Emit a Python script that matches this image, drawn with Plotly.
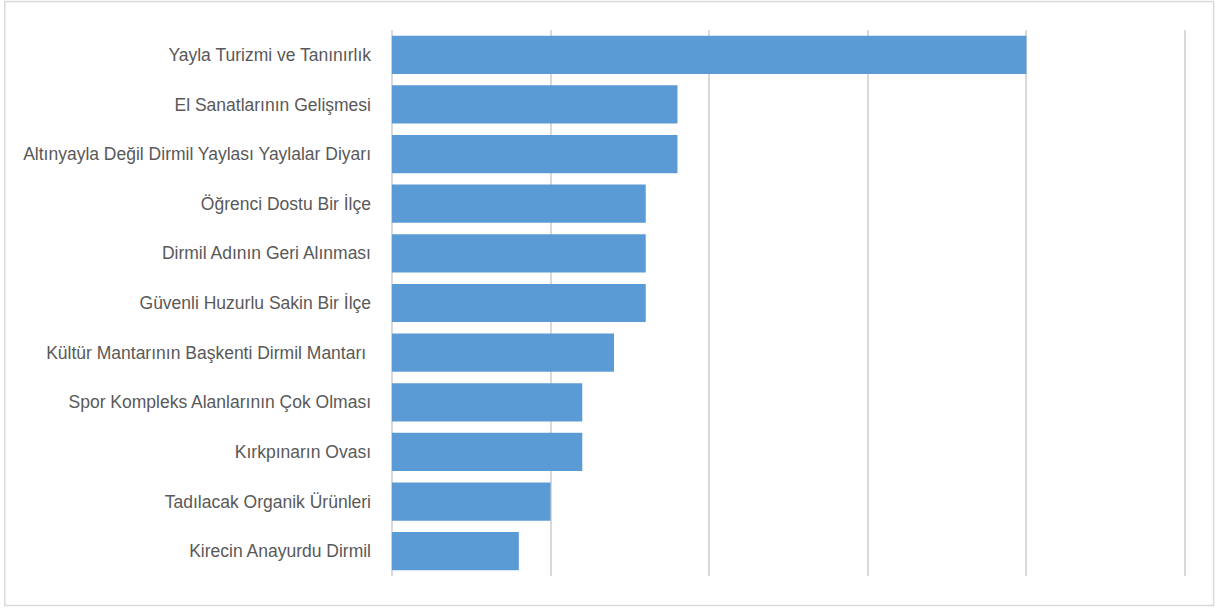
import plotly.graph_objects as go

categories = [
    "Yayla Turizmi ve Tanınırlık",
    "El Sanatlarının Gelişmesi",
    "Altınyayla Değil Dirmil Yaylası Yaylalar Diyarı",
    "Öğrenci Dostu Bir İlçe",
    "Dirmil Adının Geri Alınması",
    "Güvenli Huzurlu Sakin Bir İlçe",
    "Kültür Mantarının Başkenti Dirmil Mantarı ",
    "Spor Kompleks Alanlarının Çok Olması",
    "Kırkpınarın Ovası",
    "Tadılacak Organik Ürünleri",
    "Kirecin Anayurdu Dirmil",
]
values = [20, 9, 9, 8, 8, 8, 7, 6, 6, 5, 4]

W, H = 1215, 608
X0PX, X25PX = 392, 1185
PAD = 0.06
unit = (X25PX - X0PX) / 25.0
L = X0PX - PAD * unit
R = X25PX + PAD * unit
T, B = 30, 576

fig = go.Figure(go.Bar(
    x=values, y=categories, orientation="h",
    marker=dict(color="#5b9bd5", line=dict(width=0)),
    hoverinfo="x+y",
))

pw, ph = R - L, B - T
def px_x(p):
    return (p - L) / pw
def px_y(p):
    return (B - p) / ph

fig.update_layout(
    width=W, height=H,
    margin=dict(l=L, r=W - R, t=T, b=H - B, pad=0),
    paper_bgcolor="white", plot_bgcolor="white",
    bargap=0.23,
    showlegend=False,
    font=dict(family="Liberation Sans, Arial", size=17.5, color="#595959"),
    xaxis=dict(range=[-PAD, 25 + PAD], tickvals=[0, 5, 10, 15, 20, 25], showticklabels=False,
               showgrid=True, gridcolor="#d9d9d9", gridwidth=1.5,
               zeroline=False, showline=False, fixedrange=True),
    yaxis=dict(autorange="reversed", showgrid=False, zeroline=False, showline=False,
               ticks="", ticklabelstandoff=18, fixedrange=True),
    shapes=[
        dict(type="rect", xref="paper", yref="paper",
             x0=px_x(5), x1=px_x(1213.5), y0=px_y(605.5), y1=px_y(1.5),
             line=dict(color="#d9d9d9", width=1.5), fillcolor="rgba(0,0,0,0)", layer="below"),
    ],
)

fig.write_html("out.html", config={"displayModeBar": False},
               post_script="document.body.style.margin='0';document.body.style.overflow='hidden';")
